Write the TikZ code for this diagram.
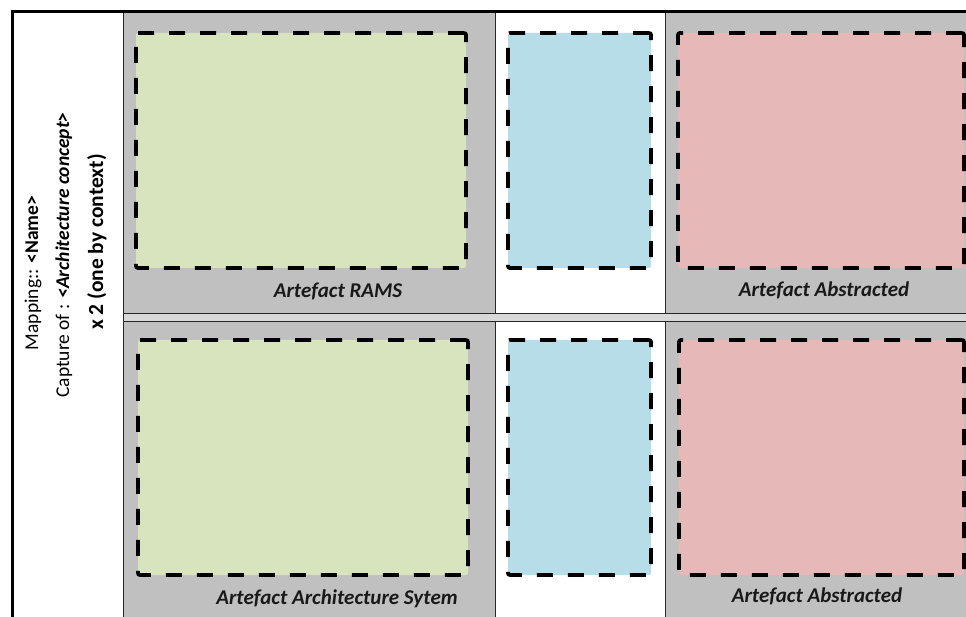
\documentclass[tikz,border=0pt]{standalone}
\usepackage{fontspec}
\setmainfont{Carlito}
\usetikzlibrary{positioning}
\definecolor{cellgrey}{RGB}{192,192,192}
\definecolor{gapgrey}{RGB}{216,216,216}
\definecolor{ramsgreen}{RGB}{215,228,189}
\definecolor{linkblue}{RGB}{183,221,232}
\definecolor{abstred}{RGB}{230,185,184}

\begin{document}
\begin{tikzpicture}[x=1pt, y=-1pt,
        cell/.style = {draw=black!85, line width=0.8pt, inner sep=0pt, outer sep=0pt, anchor=north west},
        zone/.style = {draw, line width=3.8pt, dash pattern=on 16pt off 15pt, rounded corners=2pt, inner sep=0pt, outer sep=0pt, anchor=north west, minimum height=235pt},
        artefact/.style = {font=\bfseries\itshape\fontsize{21}{24}\selectfont, text=black!90},
        side/.style = {rotate=90, anchor=base, font=\fontsize{19.5}{22}\selectfont},
      ]
      \useasboundingbox (0,0) rectangle (966,617);
      % table cells
      \node[cell, fill=white, minimum width=111pt, minimum height=620pt] (left) at (12,12) {};
      \node[cell, fill=cellgrey, minimum width=372pt, minimum height=301pt] (rams) at (123,12) {};
      \node[cell, fill=white, minimum width=170pt, minimum height=301pt] (midtop) at (495,12) {};
      \node[cell, fill=cellgrey, minimum width=320pt, minimum height=301pt] (abstop) at (665,12) {};
      \node[cell, fill=gapgrey, minimum width=862pt, minimum height=8pt] (gap) at (123,313) {};
      \node[cell, fill=cellgrey, minimum width=372pt, minimum height=300pt] (archi) at (123,321) {};
      \node[cell, fill=white, minimum width=170pt, minimum height=300pt] (midbot) at (495,321) {};
      \node[cell, fill=cellgrey, minimum width=320pt, minimum height=300pt] (absbot) at (665,321) {};
      \draw[line width=3pt] (left.south west) -- (left.north west) -- (abstop.north east);

      % dashed zones
      \node[zone, fill=ramsgreen, minimum width=330pt] (greentop) at (136,33) {};
      \node[zone, fill=linkblue, minimum width=143pt] (bluetop) at (508,33) {};
      \node[zone, fill=abstred, minimum width=286pt] (redtop) at (678,33) {};
      \node[zone, fill=ramsgreen, minimum width=330pt] (greenbot) at (138,340) {};
      \node[zone, fill=linkblue, minimum width=143pt] (bluebot) at (508,340) {};
      \node[zone, fill=abstred, minimum width=285pt] (redbot) at (679,340) {};

      % labels
      \node[artefact] (ramslbl) at (338,291) {Artefact RAMS};
      \node[artefact] (abslbltop) at (824,290) {Artefact Abstracted};
      \node[artefact] (archilbl) at (337,599) {Artefact Architecture Sytem};
      \node[artefact] (abslblbot) at (817,596) {Artefact Abstracted};

      \node[side] (mapping) at (38,273) {Mapping:: \textbf{<Name>}};
      \node[side] (capture) at (69,255) {Capture of : \textbf{\textit{<Architecture concept>}}};
      \node[side, font=\bfseries\fontsize{21.5}{24}\selectfont] (times) at (103,242) {x 2 (one by context)};
    \end{tikzpicture}
\end{document}
